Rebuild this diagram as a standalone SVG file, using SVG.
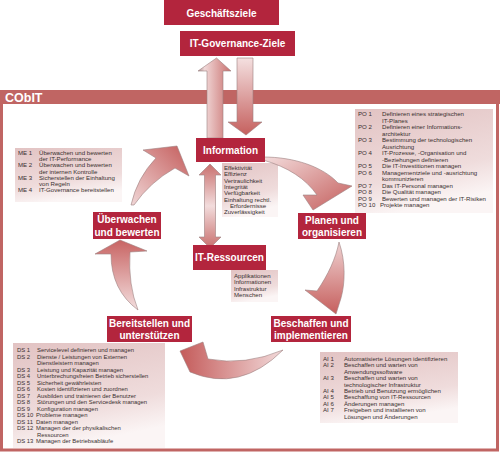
<svg xmlns="http://www.w3.org/2000/svg" width="500" height="453" viewBox="0 0 500 453">
<defs>
<style>
.box{fill:#b3253d}
.lbl{font-family:"Liberation Sans",Arial,sans-serif;font-weight:bold;font-size:10px;fill:#fff;text-anchor:middle}
.lst{font-family:"Liberation Sans",Arial,sans-serif;font-size:6.1px;fill:#3a3030}
.arr{stroke:#9c8080;stroke-width:0.6}
</style>
<linearGradient id="bg" x1="0" y1="0" x2="0.3" y2="1">
<stop offset="0" stop-color="#e2c3c3"/><stop offset="0.7" stop-color="#efdcdc"/><stop offset="1" stop-color="#fbf5f5"/>
</linearGradient>
<linearGradient id="gA" x1="0" y1="0" x2="1" y2="1"><stop offset="0" stop-color="#f3dcdc"/><stop offset="1" stop-color="#c45e5c"/></linearGradient>
<linearGradient id="gB" x1="0" y1="0" x2="0" y2="1"><stop offset="0" stop-color="#efd2d2"/><stop offset="1" stop-color="#c65f5d"/></linearGradient>
<linearGradient id="gC" x1="1" y1="0" x2="0" y2="0"><stop offset="0" stop-color="#f2dada"/><stop offset="1" stop-color="#c45b5a"/></linearGradient>
<linearGradient id="gD" x1="0" y1="1" x2="0" y2="0"><stop offset="0" stop-color="#f3dede"/><stop offset="1" stop-color="#c86463"/></linearGradient>
<linearGradient id="gE" x1="0" y1="1" x2="1" y2="0"><stop offset="0" stop-color="#f0d6d6"/><stop offset="1" stop-color="#c45d5c"/></linearGradient>
<linearGradient id="gUp" x1="0" y1="0" x2="1" y2="0"><stop offset="0" stop-color="#a88f8f"/><stop offset="0.2" stop-color="#f1d8d8"/><stop offset="1" stop-color="#c9716f"/></linearGradient>
<linearGradient id="gDn" x1="0" y1="0" x2="0" y2="1"><stop offset="0" stop-color="#f4e0e0"/><stop offset="1" stop-color="#c5605e"/></linearGradient>
<linearGradient id="gV" x1="0" y1="0" x2="0" y2="1"><stop offset="0" stop-color="#c9706e"/><stop offset="0.5" stop-color="#f2dcdc"/><stop offset="1" stop-color="#c9706e"/></linearGradient>
</defs>
<rect width="500" height="453" fill="#fff"/>

<g id="cobit-frame">
<rect x="1.5" y="92" width="496" height="358" fill="none" stroke="#c06563" stroke-width="3"/>
<rect x="0" y="90" width="500" height="14" fill="#c06563"/>
<text x="5" y="101.5" font-family="Liberation Sans,Arial,sans-serif" font-weight="bold" font-size="12.5" fill="#fff">CObIT</text>
</g>

<g id="lists">
<g id="me-list">
<rect x="15" y="148" width="107" height="54" fill="url(#bg)"/>
<text class="lst" x="18" y="155">ME 1</text><text class="lst" x="39" y="155">Überwachen und bewerten</text>
<text class="lst" x="39" y="161.2">der IT-Performance</text>
<text class="lst" x="18" y="167.4">ME 2</text><text class="lst" x="39" y="167.4">Überwachen und bewerten</text>
<text class="lst" x="39" y="173.6">der internen Kontrolle</text>
<text class="lst" x="18" y="179.8">ME 3</text><text class="lst" x="39" y="179.8">Sicherstellen der Einhaltung</text>
<text class="lst" x="39" y="186">von Regeln</text>
<text class="lst" x="18" y="192.2">ME 4</text><text class="lst" x="39" y="192.2">IT-Governance bereitstellen</text>
</g>
<g id="po-list">
<rect x="355" y="109" width="138" height="104" fill="url(#bg)"/>
<text class="lst" x="358" y="116">PO 1</text><text class="lst" x="382" y="116">Definieren eines strategischen</text>
<text class="lst" x="382" y="122.5">IT-Planes</text>
<text class="lst" x="358" y="129">PO 2</text><text class="lst" x="382" y="129">Definieren einer Informations-</text>
<text class="lst" x="382" y="135.5">architektur</text>
<text class="lst" x="358" y="142">PO 3</text><text class="lst" x="382" y="142">Bestimmung der technologischen</text>
<text class="lst" x="382" y="148.5">Ausrichtung</text>
<text class="lst" x="358" y="155">PO 4</text><text class="lst" x="382" y="155">IT-Prozesse, -Organisation und</text>
<text class="lst" x="382" y="161.5">-Beziehungen definieren</text>
<text class="lst" x="358" y="168">PO 5</text><text class="lst" x="382" y="168">Die IT-Investitionen managen</text>
<text class="lst" x="358" y="174.5">PO 6</text><text class="lst" x="382" y="174.5">Managementziele und -ausrichtung</text>
<text class="lst" x="382" y="181">kommunizieren</text>
<text class="lst" x="358" y="187.5">PO 7</text><text class="lst" x="382" y="187.5">Das IT-Personal managen</text>
<text class="lst" x="358" y="194">PO 8</text><text class="lst" x="382" y="194">Die Qualität managen</text>
<text class="lst" x="358" y="200.5">PO 9</text><text class="lst" x="382" y="200.5">Bewerten und managen der IT-Risiken</text>
<text class="lst" x="358" y="207">PO 10</text><text class="lst" x="380" y="207">Projekte managen</text>
</g>
<g id="info-list">
<rect x="222" y="163" width="56" height="54" fill="url(#bg)"/>
<text class="lst" x="224" y="170">Effektivität</text>
<text class="lst" x="224" y="176.3">Effizienz</text>
<text class="lst" x="224" y="182.6">Vertraulichkeit</text>
<text class="lst" x="224" y="188.9">Integrität</text>
<text class="lst" x="224" y="195.2">Verfügbarkeit</text>
<text class="lst" x="224" y="201.5">Einhaltung rechtl.</text>
<text class="lst" x="230" y="207.8">Erfordernisse</text>
<text class="lst" x="224" y="214.1">Zuverlässigkeit</text>
</g>
<g id="res-list">
<rect x="231" y="270" width="47" height="32" fill="url(#bg)"/>
<text class="lst" x="234" y="278">Applikationen</text>
<text class="lst" x="234" y="284.3">Informationen</text>
<text class="lst" x="234" y="290.6">Infrastruktur</text>
<text class="lst" x="234" y="296.9">Menschen</text>
</g>
<g id="ai-list">
<rect x="320" y="352" width="138" height="71" fill="url(#bg)"/>
<text class="lst" x="323" y="361">AI 1</text><text class="lst" x="344" y="361">Automatisierte Lösungen identifizieren</text>
<text class="lst" x="323" y="367.4">AI 2</text><text class="lst" x="344" y="367.4">Beschaffen und warten von</text>
<text class="lst" x="344" y="373.8">Anwendungssoftware</text>
<text class="lst" x="323" y="380.2">AI 3</text><text class="lst" x="344" y="380.2">Beschaffen und warten von</text>
<text class="lst" x="344" y="386.6">technologischer Infrastruktur</text>
<text class="lst" x="323" y="393">AI 4</text><text class="lst" x="344" y="393">Betrieb und Benutzung ermöglichen</text>
<text class="lst" x="323" y="399.4">AI 5</text><text class="lst" x="344" y="399.4">Beschaffung von IT-Ressourcen</text>
<text class="lst" x="323" y="405.8">AI 6</text><text class="lst" x="344" y="405.8">Änderungen managen</text>
<text class="lst" x="323" y="412.2">AI 7</text><text class="lst" x="344" y="412.2">Freigeben und installieren von</text>
<text class="lst" x="344" y="418.6">Lösungen und Änderungen</text>
</g>
<g id="ds-list">
<rect x="13" y="343" width="152" height="105" fill="url(#bg)"/>
<g font-size="5.9px">
<text class="lst" x="17" y="352" style="font-size:5.9px">DS 1</text><text class="lst" x="37" y="352" style="font-size:5.9px">Servicelevel definieren und managen</text>
<text class="lst" x="17" y="358.5" style="font-size:5.9px">DS 2</text><text class="lst" x="37" y="358.5" style="font-size:5.9px">Dienste / Leistungen von Externen</text>
<text class="lst" x="37" y="365" style="font-size:5.9px">Dienstleistern managen</text>
<text class="lst" x="17" y="371.5" style="font-size:5.9px">DS 3</text><text class="lst" x="37" y="371.5" style="font-size:5.9px">Leistung und Kapazität managen</text>
<text class="lst" x="17" y="378" style="font-size:5.9px">DS 4</text><text class="lst" x="37" y="378" style="font-size:5.9px">Unterbrechungsfreien Betrieb sicherstellen</text>
<text class="lst" x="17" y="384.5" style="font-size:5.9px">DS 5</text><text class="lst" x="37" y="384.5" style="font-size:5.9px">Sicherheit gewährleisten</text>
<text class="lst" x="17" y="391" style="font-size:5.9px">DS 6</text><text class="lst" x="37" y="391" style="font-size:5.9px">Kosten identifizieren und zuordnen</text>
<text class="lst" x="17" y="397.5" style="font-size:5.9px">DS 7</text><text class="lst" x="37" y="397.5" style="font-size:5.9px">Ausbilden und trainieren der Benutzer</text>
<text class="lst" x="17" y="404" style="font-size:5.9px">DS 8</text><text class="lst" x="37" y="404" style="font-size:5.9px">Störungen und den Servicedesk managen</text>
<text class="lst" x="17" y="410.5" style="font-size:5.9px">DS 9</text><text class="lst" x="37" y="410.5" style="font-size:5.9px">Konfiguration managen</text>
<text class="lst" x="17" y="417" style="font-size:5.9px">DS 10</text><text class="lst" x="36" y="417" style="font-size:5.9px">Probleme managen</text>
<text class="lst" x="17" y="423.5" style="font-size:5.9px">DS 11</text><text class="lst" x="36" y="423.5" style="font-size:5.9px">Daten managen</text>
<text class="lst" x="17" y="430" style="font-size:5.9px">DS 12</text><text class="lst" x="36" y="430" style="font-size:5.9px">Managen der der physikalischen</text>
<text class="lst" x="37" y="436.5" style="font-size:5.9px">Ressourcen</text>
<text class="lst" x="17" y="443" style="font-size:5.9px">DS 13</text><text class="lst" x="36" y="443" style="font-size:5.9px">Managen der Betriebsabläufe</text>
</g>
</g>
</g>

<g id="connectors">
<path class="arr" fill="url(#gUp)" d="M207,138 L207,71 L198,71 L216.5,58 L231,71 L223,71 L223,138 Z"/>
<path class="arr" fill="url(#gDn)" d="M237,58 L253,58 L253,122 L262,122 L246,135 L228,122 L237,122 Z"/>
<path class="arr" fill="url(#gV)" d="M210,164 L221,175 L215.5,175 L215.5,237 L221,237 L210,248 L199,237 L204.5,237 L204.5,175 L199,175 Z"/>
<path class="arr" fill="url(#gA)" d="M263,157 C295,157 323,167 338,183 L352,186 L313,210 L303,195 L317,195 C306,179 288,167 263,160 Z"/>
<path class="arr" fill="url(#gB)" d="M339,242 C346,262 345,284 341,298 L336,314 L305,290 L317,291 C328,275 336,258 339,242 Z"/>
<path class="arr" fill="url(#gC)" d="M283,350 Q245,366 208,359 L203,342 L180,351 L190,372 Q240,393 283,350 Z"/>
<path class="arr" fill="url(#gD)" d="M120,240 L147,251 L130,252 Q128,285 138,310 Q111,290 111,254 L95,254 Z"/>
<path class="arr" fill="url(#gE)" d="M131,205 Q137,178 156,158 L143,150 L177,146 L189,176 L175,168 Q150,182 134,205 Z"/>
</g>

<g id="geschaeftsziele"><rect class="box" x="164" y="0" width="115" height="25"/><text class="lbl" x="221.5" y="16.5">Geschäftsziele</text></g>
<g id="it-governance-ziele"><rect class="box" x="180" y="31" width="115" height="25"/><text class="lbl" x="237.5" y="47">IT-Governance-Ziele</text></g>
<g id="information"><rect class="box" x="196" y="138" width="69" height="24"/><text class="lbl" x="230.5" y="154">Information</text></g>
<g id="it-ressourcen"><rect class="box" x="193" y="245" width="73" height="25"/><text class="lbl" x="229.5" y="261">IT-Ressourcen</text></g>
<g id="ueberwachen"><rect class="box" x="93" y="212" width="68" height="27"/><text class="lbl" x="127" y="223">Überwachen</text><text class="lbl" x="127" y="235.5">und bewerten</text></g>
<g id="planen"><rect class="box" x="298" y="213" width="68" height="26"/><text class="lbl" x="332" y="223.5">Planen und</text><text class="lbl" x="332" y="235.5">organisieren</text></g>
<g id="beschaffen"><rect class="box" x="271" y="316" width="80" height="26"/><text class="lbl" x="311" y="326.5">Beschaffen und</text><text class="lbl" x="311" y="338.5">implementieren</text></g>
<g id="bereitstellen"><rect class="box" x="107" y="316" width="85" height="26"/><text class="lbl" x="149.5" y="326.5">Bereitstellen und</text><text class="lbl" x="149.5" y="338.5">unterstützen</text></g>
</svg>
